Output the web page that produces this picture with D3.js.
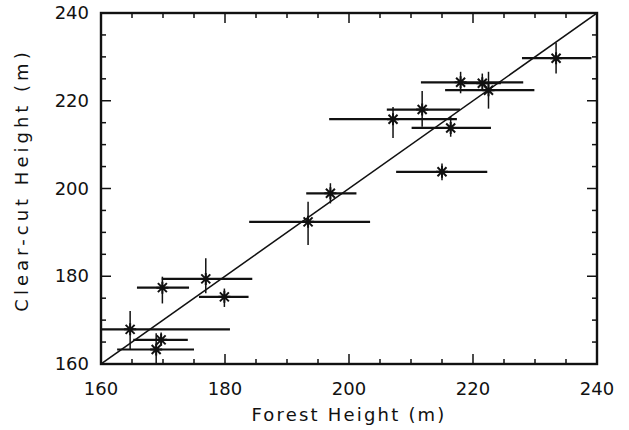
<!doctype html>
<html>
<head>
	<meta charset="utf-8">
	<title>Clear-cut vs Forest Height</title>
	<script src="https://cdnjs.cloudflare.com/ajax/libs/d3/7.8.5/d3.min.js"></script>
	<style>
		body { margin: 0; background: #fff; }
		svg text { font-family: "DejaVu Sans", sans-serif; fill: #111; }
	</style>
</head>
<body>
	<script>
		// forest height (x) and clear-cut height (y), with error bar ends
		var forest   = [164.7, 169.7, 168.9, 169.9, 176.9, 179.9, 193.4, 197.0, 207.1, 211.8, 216.4, 215.0, 218.0, 221.5, 222.5, 233.4];
		var clearcut = [167.9, 165.5, 163.3, 177.4, 179.4, 175.3, 192.4, 198.9, 215.8, 218.0, 213.8, 203.8, 224.2, 224.0, 222.4, 229.7];
		var forestLo = [148.7, 165.2, 162.6, 165.8, 169.8, 175.8, 183.9, 193.1, 196.8, 206.1, 210.1, 207.6, 211.6, 218.5, 215.5, 227.9];
		var forestHi = [180.8, 174.0, 175.0, 174.2, 184.4, 183.8, 203.4, 201.2, 217.4, 217.9, 222.9, 222.3, 228.1, 224.5, 229.9, 239.1];
		var clearLo  = [163.2, 164.2, 155.0, 173.8, 176.1, 173.0, 187.1, 196.6, 211.5, 214.1, 211.8, 201.9, 221.7, 223.5, 218.2, 226.2];
		var clearHi  = [172.1, 167.2, 167.0, 179.9, 184.1, 177.2, 197.0, 201.2, 218.6, 222.2, 216.4, 205.7, 226.6, 226.2, 226.6, 233.2];
		var tickVals = [160, 180, 200, 220, 240];

		var W = 629, H = 430;
		var pL = 101, pR = 597, pT = 13, pB = 364;

		var svg = d3.select('body').append('svg')
			.attr('width', W)
			.attr('height', H);

		var x = d3.scaleLinear().domain([160, 240]).range([pL, pR]);
		var y = d3.scaleLinear().domain([160, 240]).range([pB, pT]);

		svg.append('clipPath').attr('id', 'plot')
			.append('rect')
			.attr('x', pL).attr('y', pT)
			.attr('width', pR - pL).attr('height', pB - pT);

		var g = svg.append('g').attr('clip-path', 'url(#plot)');

		// 1:1 line
		g.append('line')
			.attr('x1', x(160)).attr('y1', y(160))
			.attr('x2', x(240)).attr('y2', y(240))
			.attr('stroke', '#111').attr('stroke-width', 1.5);

		var idx = d3.range(forest.length);

		// horizontal error bars
		g.selectAll('.xerr').data(idx).enter().append('line')
			.attr('x1', function (i) { return x(forestLo[i]); })
			.attr('x2', function (i) { return x(forestHi[i]); })
			.attr('y1', function (i) { return y(clearcut[i]); })
			.attr('y2', function (i) { return y(clearcut[i]); })
			.attr('stroke', '#111').attr('stroke-width', 2.2);

		// vertical error bars
		g.selectAll('.yerr').data(idx).enter().append('line')
			.attr('x1', function (i) { return x(forest[i]); })
			.attr('x2', function (i) { return x(forest[i]); })
			.attr('y1', function (i) { return y(clearLo[i]); })
			.attr('y2', function (i) { return y(clearHi[i]); })
			.attr('stroke', '#111').attr('stroke-width', 1.5);

		// asterisk markers
		var r = 6;
		var star = 'M0,' + (-r) + 'V' + r +
			'M' + (-r) + ',0H' + r +
			'M' + (-r * 0.75) + ',' + (-r * 0.75) + 'L' + (r * 0.75) + ',' + (r * 0.75) +
			'M' + (-r * 0.75) + ',' + (r * 0.75) + 'L' + (r * 0.75) + ',' + (-r * 0.75);
		g.selectAll('.pt').data(idx).enter().append('path')
			.attr('d', star)
			.attr('transform', function (i) { return 'translate(' + x(forest[i]) + ',' + y(clearcut[i]) + ')'; })
			.attr('fill', 'none').attr('stroke', '#111').attr('stroke-width', 2);

		// inward ticks on all four sides
		var minor = d3.range(160, 241, 5);
		function isMajor(v) { return v % 20 === 0; }
		var ticks = svg.append('g').attr('stroke', '#111').attr('stroke-width', 1.5);
		minor.forEach(function (v) {
			var len = isMajor(v) ? 10 : 5;
			ticks.append('line').attr('x1', x(v)).attr('x2', x(v)).attr('y1', pB).attr('y2', pB - len);
			ticks.append('line').attr('x1', x(v)).attr('x2', x(v)).attr('y1', pT).attr('y2', pT + len);
			ticks.append('line').attr('y1', y(v)).attr('y2', y(v)).attr('x1', pL).attr('x2', pL + len);
			ticks.append('line').attr('y1', y(v)).attr('y2', y(v)).attr('x1', pR).attr('x2', pR - len);
		});

		// frame
		svg.append('rect')
			.attr('x', pL).attr('y', pT)
			.attr('width', pR - pL).attr('height', pB - pT)
			.attr('fill', 'none').attr('stroke', '#111').attr('stroke-width', 2.4);

		// tick labels
		svg.selectAll('.xl').data(tickVals).enter().append('text')
			.attr('x', function (d) { return x(d); })
			.attr('y', 395)
			.attr('text-anchor', 'middle')
			.attr('font-size', 18)
			.text(function (d) { return d; });

		svg.selectAll('.yl').data(tickVals).enter().append('text')
			.attr('x', 89)
			.attr('y', function (d) { return y(d) + 6; })
			.attr('text-anchor', 'end')
			.attr('font-size', 18)
			.text(function (d) { return d; });

		// axis titles
		svg.append('text')
			.attr('x', (pL + pR) / 2)
			.attr('y', 421)
			.attr('text-anchor', 'middle')
			.attr('font-size', 18)
			.attr('letter-spacing', 2.2)
			.text('Forest Height (m)');

		svg.append('text')
			.attr('transform', 'translate(28,180) rotate(-90)')
			.attr('text-anchor', 'middle')
			.attr('font-size', 18)
			.attr('letter-spacing', 4)
			.text('Clear-cut Height (m)');
	</script>
</body>
</html>
